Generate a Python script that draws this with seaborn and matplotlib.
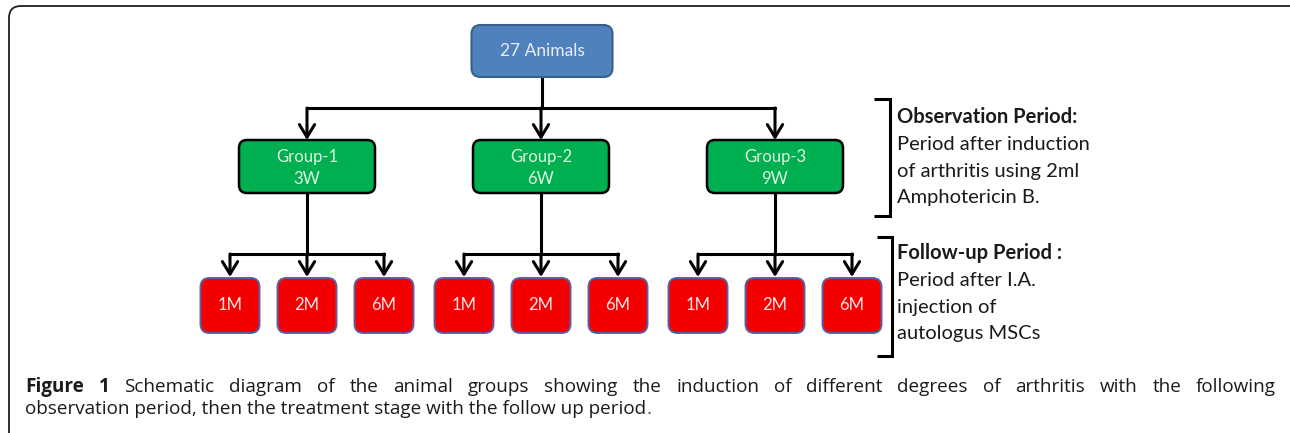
import matplotlib
matplotlib.use('Agg')
import matplotlib.pyplot as plt
from matplotlib.patches import FancyBboxPatch
import seaborn as sns

# Diagram content
top_label = '27 Animals'
group_names = ['Group-1', 'Group-2', 'Group-3']
group_weeks = ['3W', '6W', '9W']
followups = ['1M', '2M', '6M']
obs_title = 'Observation Period:'
obs_lines = ['Period after induction', 'of arthritis using 2ml', 'Amphotericin B.']
fu_title = 'Follow-up Period :'
fu_lines = ['Period after I.A.', 'injection of', 'autologus MSCs']
caption_bold = 'Figure 1'
caption_line1 = ('Schematic diagram of the animal groups showing the induction of '
                 'different degrees of arthritis with the following')
caption_line2 = 'observation period, then the treatment stage with the follow up period'

sns.set_theme(style='white')
plt.rcParams['font.family'] = ['Lato', 'DejaVu Sans']
CAP_FONT = ['Open Sans', 'DejaVu Sans']
CAP_SIZE = 13.6

fig = plt.figure(figsize=(12.9, 4.33), dpi=100)
ax = fig.add_axes([0, 0, 1, 1])
ax.set_xlim(0, 1290)
ax.set_ylim(433, 0)
ax.axis('off')

LW = 2.2


def box(cx, top, w, h, fc, ec, lw, r):
    ax.add_patch(FancyBboxPatch((cx - w / 2, top), w, h,
                                boxstyle=f'round,pad=0,rounding_size={r}',
                                fc=fc, ec=ec, lw=lw, zorder=3))


def arrow(x, y0, y1):
    ax.annotate('', xy=(x, y1), xytext=(x, y0),
                arrowprops=dict(arrowstyle='->,head_length=0.9,head_width=0.55',
                                lw=LW, color='black', shrinkA=0, shrinkB=0,
                                mutation_scale=10), zorder=2)


# outer frame (right and bottom edges fall outside the picture)
ax.add_patch(FancyBboxPatch((9, 6), 1295, 445, boxstyle='round,pad=0,rounding_size=12',
                            fc='none', ec='#1e1e1e', lw=1.3, zorder=1))

# top node
top_cx = 542
box(top_cx, 25, 141, 52, '#4F81BD', '#3A5F8B', 1.5, 9)
ax.text(top_cx, 51, top_label, ha='center', va='center', fontsize=12.5,
        color='#E8EEF6', zorder=4)

# layout of groups
group_cx = [307 + i * 234 for i in range(len(group_names))]
child_off = [(j - 1) * 77 for j in range(len(followups))]
ax.plot([top_cx, top_cx], [77, 108], color='black', lw=LW, solid_capstyle='butt')
ax.plot([group_cx[0], group_cx[-1]], [108, 108], color='black', lw=LW,
        solid_capstyle='projecting')

for cx, name, wk in zip(group_cx, group_names, group_weeks):
    arrow(cx, 108, 140)
    box(cx, 140, 136, 53, '#00B050', 'black', 1.8, 8)
    ax.text(cx, 157, name, ha='center', va='center', fontsize=12, color='#DDF2E3', zorder=4)
    ax.text(cx, 179, wk, ha='center', va='center', fontsize=12, color='#DDF2E3', zorder=4)
    ax.plot([cx, cx], [193, 254], color='black', lw=LW, solid_capstyle='butt')
    ax.plot([cx + child_off[0], cx + child_off[-1]], [254, 254], color='black',
            lw=LW, solid_capstyle='projecting')
    for off, lab in zip(child_off, followups):
        arrow(cx + off, 254, 277)
        box(cx + off, 278, 59, 55, '#F40000', '#5B5EA6', 1.4, 9)
        ax.text(cx + off, 305, lab, ha='center', va='center', fontsize=12,
                color='#FFE6E6', zorder=4)

# brackets with side notes
for (x, y0, y1, tick), title, lines, ty in [((890, 99, 216, 874), obs_title, obs_lines, 117),
                                           ((892, 237, 356, 877), fu_title, fu_lines, 253)]:
    ax.plot([tick, x, x, tick], [y0, y0, y1, y1], color='black', lw=LW,
            solid_joinstyle='miter', solid_capstyle='butt')
    ax.text(897, ty, title, ha='left', va='center', fontsize=14.5,
            fontweight='bold', color='#1a1a1a')
    for k, ln in enumerate(lines):
        ax.text(897, ty + 27 * (k + 1), ln, ha='left', va='center', fontsize=14.5,
                color='#1a1a1a')

# caption, first line justified
words = [(w, 'bold') for w in caption_bold.split()] + \
        [(w, 'normal') for w in caption_line1.split()]
texts = [ax.text(0, 392, w, fontsize=CAP_SIZE, fontweight=fw, color='#1c1a1b',
                 family=CAP_FONT, ha='left', va='baseline') for w, fw in words]
fig.canvas.draw()
rend = fig.canvas.get_renderer()
widths = [t.get_window_extent(rend).width for t in texts]
left, right = 25, 1276
gap = (right - left - sum(widths)) / (len(texts) - 1)
xpos = left
for t, wd in zip(texts, widths):
    t.set_x(xpos)
    xpos += wd + gap

t2 = ax.text(left, 414, caption_line2, fontsize=CAP_SIZE, color='#1c1a1b',
             family=CAP_FONT, ha='left', va='baseline')
fig.canvas.draw()
w2 = t2.get_window_extent(rend).width
ax.text(left + w2, 414, '.', fontsize=CAP_SIZE, color='#555555', family=CAP_FONT,
        ha='left', va='baseline')

fig.savefig('out.png', dpi=100, facecolor='white')
